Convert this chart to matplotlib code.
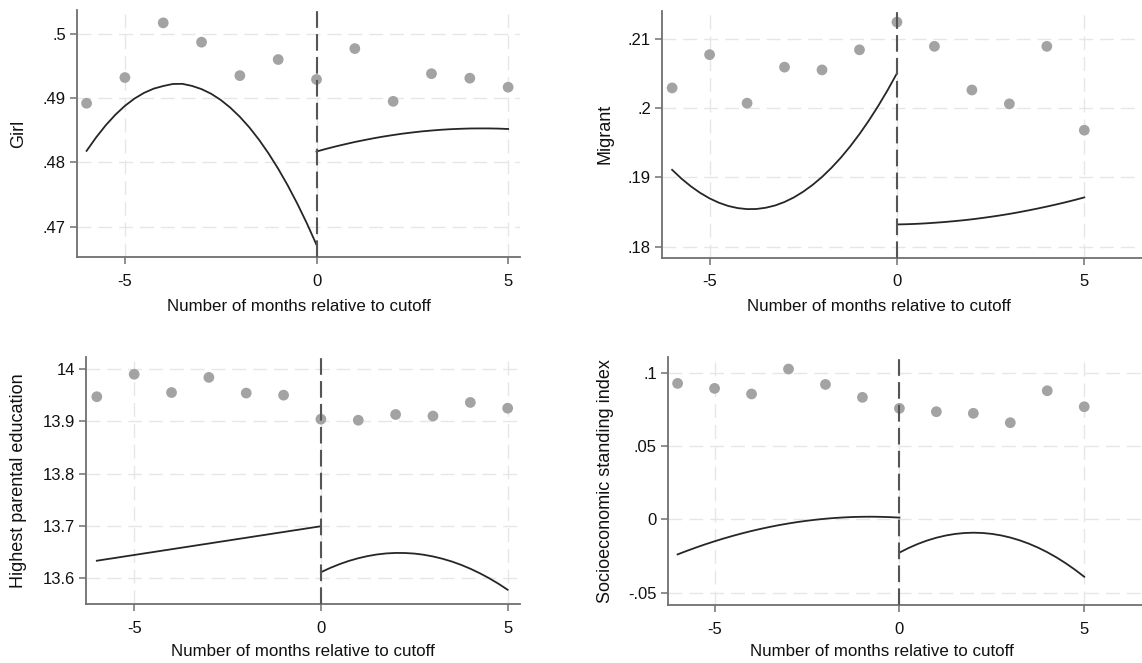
import matplotlib
matplotlib.use("Agg")
import matplotlib.pyplot as plt
import matplotlib.transforms as mtransforms

plt.rcParams['font.family'] = ['Liberation Sans', 'DejaVu Sans']

# ---------------- data ----------------
months = [-6, -5, -4, -3, -2, -1, 0, 1, 2, 3, 4, 5]
fit_x_left = [-6, -5.75, -5.5, -5.25, -5, -4.75, -4.5, -4.25, -4, -3.75, -3.5, -3.25, -3,
              -2.75, -2.5, -2.25, -2, -1.75, -1.5, -1.25, -1, -0.75, -0.5, -0.25, 0]
fit_x_right = [0, 0.25, 0.5, 0.75, 1, 1.25, 1.5, 1.75, 2, 2.25, 2.5, 2.75, 3,
               3.25, 3.5, 3.75, 4, 4.25, 4.5, 4.75, 5]

girl_means = [.4892, .4932, .5017, .4987, .4935, .4960, .4929, .4977, .4895, .4938, .4931, .4917]
girl_fit_left = [.48180, .48390, .48578, .48741, .48880, .48993, .49082, .49147, .49188, .49220, .49222,
                 .49190, .49140, .49068, .48972, .48852, .48709, .48543, .48353, .48139, .47902, .47642,
                 .47358, .47051, .46720]
girl_fit_right = [.48170, .48211, .48249, .48284, .48318, .48348, .48377, .48403, .48426, .48448, .48466,
                  .48483, .48496, .48508, .48517, .48523, .48528, .48529, .48529, .48526, .48520]

migrant_means = [.2029, .2077, .2007, .2059, .2055, .2084, .2124, .2089, .2026, .2006, .2089, .1968]
migrant_fit_left = [.19108, .18981, .18870, .18775, .18696, .18633, .18586, .18556, .18541, .18543, .18561,
                    .18594, .18644, .18710, .18793, .18891, .19005, .19136, .19282, .19445, .19624, .19819,
                    .20030, .20257, .20501]
migrant_fit_right = [.18320, .18323, .18328, .18335, .18344, .18354, .18366, .18379, .18394, .18411, .18430,
                     .18450, .18472, .18496, .18522, .18549, .18578, .18608, .18640, .18674, .18710]

educ_means = [13.947, 13.990, 13.955, 13.984, 13.954, 13.950, 13.904, 13.902, 13.913, 13.910, 13.936, 13.925]
educ_fit_left = [13.6330, 13.6358, 13.6385, 13.6413, 13.6440, 13.6468, 13.6495, 13.6523, 13.6550, 13.6578,
                 13.6605, 13.6633, 13.6660, 13.6688, 13.6715, 13.6743, 13.6770, 13.6798, 13.6825, 13.6853,
                 13.6880, 13.6908, 13.6935, 13.6963, 13.6990]
educ_fit_right = [13.6110, 13.6193, 13.6265, 13.6327, 13.6378, 13.6419, 13.6450, 13.6470, 13.6479, 13.6478,
                  13.6467, 13.6445, 13.6412, 13.6369, 13.6316, 13.6252, 13.6177, 13.6092, 13.5997, 13.5891,
                  13.5774]

ses_means = [.0927, .0893, .0855, .1025, .0920, .0832, .0757, .0734, .0723, .0659, .0877, .0768]
ses_fit_left = [-.02389, -.02148, -.01919, -.01701, -.01496, -.01302, -.01121, -.00951, -.00793, -.00647,
                -.00513, -.00390, -.00280, -.00181, -.00095, -.00020, .00043, .00094, .00133, .00161,
                .00176, .00180, .00171, .00151, .00119]
ses_fit_right = [-.02267, -.01951, -.01676, -.01443, -.01253, -.01104, -.00997, -.00933, -.00910, -.00929,
                 -.00991, -.01094, -.01239, -.01427, -.01656, -.01927, -.02241, -.02596, -.02993, -.03433,
                 -.03914]

x_ticks = [-5, 0, 5]
x_tick_labels = ['-5', '0', '5']

girl_yticks = [.47, .48, .49, .5]
girl_ylabels = ['.47', '.48', '.49', '.5']
migrant_yticks = [.18, .19, .2, .21]
migrant_ylabels = ['.18', '.19', '.2', '.21']
educ_yticks = [13.6, 13.7, 13.8, 13.9, 14]
educ_ylabels = ['13.6', '13.7', '13.8', '13.9', '14']
ses_yticks = [-.05, 0, .05, .1]
ses_ylabels = ['-.05', '0', '.05', '.1']

xlabel = 'Number of months relative to cutoff'

# ---------------- layout ----------------
W, H = 1142, 663
fig = plt.figure(figsize=(W / 100, H / 100), dpi=100)
fig.patch.set_facecolor('white')


def make_ax(l, t, r, b):
    return fig.add_axes([l / W, 1 - b / H, (r - l) / W, (b - t) / H])


panels = [
    dict(box=(77, 10, 520, 257), xlim=(-6.25, 5.31), ylim=(.4653, .5037),
         means=girl_means, fl=girl_fit_left, fr=girl_fit_right,
         yt=girl_yticks, yl=girl_ylabels, label='Girl', ylx=19, xly=311),
    dict(box=(662, 11, 1160, 257.7), xlim=(-6.27, 7.02), ylim=(.1784, .2140),
         means=migrant_means, fl=migrant_fit_left, fr=migrant_fit_right,
         yt=migrant_yticks, yl=migrant_ylabels, label='Migrant', ylx=605, xly=311),
    dict(box=(86, 356.7, 520, 604.3), xlim=(-6.29, 5.33), ylim=(13.5496, 14.0236),
         means=educ_means, fl=educ_fit_left, fr=educ_fit_right,
         yt=educ_yticks, yl=educ_ylabels, label='Highest parental education', ylx=19, xly=656),
    dict(box=(668, 357.3, 1160, 605), xlim=(-6.26, 7.05), ylim=(-.0584, .1105),
         means=ses_means, fl=ses_fit_left, fr=ses_fit_right,
         yt=ses_yticks, yl=ses_ylabels, label='Socioeconomic standing index', ylx=605, xly=656),
]

spine_col = '#707070'
grid_col = '#e6e6e6'
text_col = '#111111'

for p in panels:
    ax = make_ax(*p['box'])
    ax.set_xlim(*p['xlim'])
    ax.set_ylim(*p['ylim'])
    ax.set_xticks(x_ticks)
    ax.set_xticklabels(x_tick_labels)
    ax.set_yticks(p['yt'])
    ax.set_yticklabels(p['yl'])
    ax.grid(True, color=grid_col, linestyle=(0, (10, 5)), linewidth=1.0)
    ax.set_axisbelow(True)
    for s in ('top', 'right'):
        ax.spines[s].set_visible(False)
    for s in ('left', 'bottom'):
        ax.spines[s].set_color(spine_col)
        ax.spines[s].set_linewidth(1.3)
    ax.tick_params(axis='both', colors=spine_col, labelcolor=text_col,
                   labelsize=12, length=5, width=1.1, direction='out')
    ax.tick_params(axis='x', pad=7)
    ax.tick_params(axis='y', pad=3)

    ax.scatter(months, p['means'], s=60, color='#a3a3a3', edgecolors='none', zorder=3)
    ax.plot(fit_x_left, p['fl'], color='#262626', linewidth=1.3, zorder=4)
    ax.plot(fit_x_right, p['fr'], color='#262626', linewidth=1.3, zorder=4)
    ax.axvline(0, color='#555555', linestyle=(0, (8, 3)), linewidth=1.5, zorder=5)

    l, t, r, b = p['box']
    # x axis title: centred over the plotted range (-6.3 .. 5.3), placed in figure pixels
    xmid = (p['xlim'][0] + 5.31) / 2
    trans = mtransforms.blended_transform_factory(ax.transData, fig.transFigure)
    ax.text(xmid, 1 - p['xly'] / H, xlabel, transform=trans,
            fontsize=12.2, color=text_col, ha='center', va='baseline')

    fig.text(p['ylx'] / W, 1 - ((t + b) / 2) / H, p['label'], rotation=90,
             ha='center', va='center', fontsize=13, color=text_col)

fig.savefig('out.png', dpi=100, facecolor='white')
